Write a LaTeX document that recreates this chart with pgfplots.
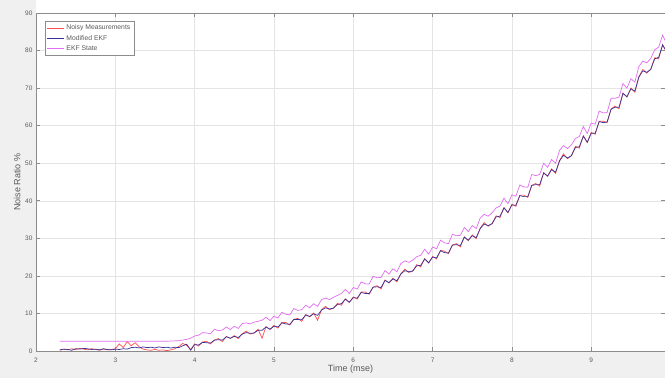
\documentclass[border=0pt]{standalone}
\usepackage{fontspec}
\setmainfont{Liberation Sans}
\usepackage{pgfplots}
\usepackage{pgfplotstable}
\pgfplotsset{compat=1.18}
\definecolor{figgray}{RGB}{240,240,240}
\definecolor{noisy}{RGB}{255,80,80}
\definecolor{modekf}{RGB}{55,50,150}
\definecolor{ekfst}{RGB}{225,110,240}
\definecolor{gridc}{RGB}{228,228,228}
\definecolor{axc}{RGB}{140,140,140}
\definecolor{tickc}{RGB}{90,90,90}

\pgfplotstableread{
t n m e
2.30 0.2 0.3 2.6
2.35 0.5 0.5 2.6
2.40 0.3 0.4 2.6
2.45 0.6 0.2 2.6
2.50 0.4 0.6 2.6
2.55 0.7 0.5 2.6
2.60 0.5 0.7 2.6
2.65 0.3 0.6 2.6
2.70 0.6 0.4 2.6
2.75 0.4 0.5 2.6
2.80 0.2 0.3 2.6
2.85 0.5 0.6 2.6
2.90 0.3 0.4 2.6
2.95 0.4 0.3 2.6
3.00 0.6 0.5 2.6
3.05 1.9 0.4 2.6
3.10 0.9 0.6 2.6
3.15 2.5 0.5 2.6
3.20 1.4 0.9 2.6
3.25 2.2 1.0 2.6
3.30 1.1 0.8 2.6
3.35 0.5 1.1 2.6
3.40 0.3 0.9 2.6
3.45 0.2 1.0 2.6
3.50 0.4 0.8 2.6
3.55 0.2 1.1 2.6
3.60 0.3 0.9 2.6
3.65 0.1 1.0 2.6
3.70 0.3 0.8 2.65
3.75 0.6 1.0 2.7
3.80 1.2 0.9 2.75
3.85 2.0 1.4 2.9
3.90 1.5 1.8 3.1
3.95 0.4 0.2 3.4
4.00 1.9 1.7 4.0
4.05 1.3 1.6 4.2
4.10 2.4 2.3 4.9
4.15 2.6 2.2 4.8
4.20 1.9 2.1 4.6
4.25 2.9 2.9 5.8
4.30 3.3 3.0 5.4
4.35 2.5 2.9 5.6
4.40 3.9 3.8 6.4
4.45 3.3 3.4 5.7
4.50 4.1 3.9 6.6
4.55 3.3 3.6 6.0
4.60 4.6 4.5 7.3
4.65 5.3 4.9 7.5
4.70 4.5 4.7 7.2
4.75 4.8 4.8 7.7
4.80 5.8 5.5 7.9
4.85 3.4 5.5 8.2
4.90 6.5 6.4 9.0
4.95 5.7 5.8 8.1
5.00 6.8 6.6 9.3
5.05 6.1 6.4 8.8
5.10 7.6 7.5 10.3
5.15 7.6 7.2 9.8
5.20 6.9 7.1 9.6
5.25 8.4 8.4 11.3
5.30 8.7 8.4 10.8
5.35 7.9 8.3 11.0
5.40 9.7 9.6 12.2
5.45 9.1 9.2 11.5
5.50 10.1 9.9 12.6
5.55 8.2 9.5 11.9
5.60 11.0 10.9 13.7
5.65 11.9 11.5 14.1
5.70 11.0 11.2 13.7
5.75 11.4 11.4 14.3
5.80 12.7 12.4 14.8
5.85 12.2 12.6 15.3
5.90 13.9 13.8 16.4
5.95 12.9 13.0 15.3
6.00 14.4 14.2 16.9
6.05 13.8 14.1 16.5
6.10 15.7 15.6 18.4
6.15 15.7 15.3 17.9
6.20 15.1 15.3 17.8
6.25 17.0 17.0 19.9
6.30 17.4 17.1 19.5
6.35 16.5 16.9 19.6
6.40 18.9 18.8 21.4
6.45 18.1 18.2 20.5
6.50 19.4 19.2 21.9
6.55 18.4 18.7 21.1
6.60 20.6 20.5 23.3
6.65 21.8 21.4 24.0
6.70 20.9 21.1 23.6
6.75 21.3 21.3 24.2
6.80 23.0 22.7 25.1
6.85 22.4 22.8 25.5
6.90 24.6 24.5 27.1
6.95 23.4 23.5 25.8
7.00 25.2 25.0 27.7
7.05 24.5 24.8 27.2
7.10 26.8 26.7 29.5
7.15 26.6 26.2 28.8
7.20 25.9 26.1 28.6
7.25 28.2 28.2 31.1
7.30 28.6 28.3 30.7
7.35 27.7 28.1 30.8
7.40 30.4 30.3 32.9
7.45 29.4 29.5 31.8
7.50 30.9 30.7 33.4
7.55 29.9 30.2 32.6
7.60 32.7 32.6 35.4
7.65 34.2 33.8 36.4
7.70 33.2 33.4 35.9
7.75 33.9 33.9 36.8
7.80 36.0 35.7 38.1
7.85 35.5 35.9 38.6
7.90 38.2 38.1 40.7
7.95 36.8 36.9 39.2
8.00 39.1 38.9 41.6
8.05 38.5 38.8 41.2
8.10 41.5 41.4 44.2
8.15 41.5 41.1 43.7
8.20 40.9 41.1 43.6
8.25 44.1 44.1 47.0
8.30 44.6 44.3 46.7
8.35 43.9 44.3 47.0
8.40 47.5 47.4 50.0
8.45 46.5 46.6 48.9
8.50 48.5 48.3 51.0
8.55 47.3 47.6 50.0
8.60 50.7 50.6 53.4
8.65 52.5 52.1 54.7
8.70 51.2 51.4 53.9
8.75 52.0 52.0 54.9
8.80 54.5 54.2 56.6
8.85 54.0 54.4 57.1
8.90 57.3 57.2 59.8
8.95 55.5 55.6 57.9
9.00 58.2 58.0 60.7
9.05 57.7 58.0 60.4
9.10 61.2 61.1 63.9
9.15 61.2 60.8 63.4
9.20 60.8 61.0 63.5
9.25 64.4 64.4 67.3
9.30 65.2 64.9 67.3
9.35 64.5 64.9 67.6
9.40 68.7 68.6 71.2
9.45 67.6 67.7 70.0
9.50 70.0 69.8 72.5
9.55 68.9 69.2 71.6
9.60 73.0 72.9 75.7
9.65 75.0 74.6 77.2
9.70 74.0 74.2 76.7
9.75 75.0 75.0 77.9
9.80 78.1 77.8 80.2
9.85 77.8 78.2 80.9
9.90 81.6 81.5 84.1
9.93 80.3 80.4 82.7
}\datatable

\begin{document}
\begin{tikzpicture}[x=1pt,y=1pt]
\fill[figgray] (0,0) rectangle (665,378);
\fill[white] (36,365) rectangle (665,378);
\path[use as bounding box] (0,0) rectangle (665,378);
\begin{axis}[
  at={(36pt,27pt)}, anchor=south west,
  scale only axis, width=629pt, height=338pt,
  xmin=2, xmax=9.93, ymin=0, ymax=90,
  xtick={2,3,...,9}, ytick={0,10,...,90},
  grid=major, major grid style={gridc, line width=0.5pt},
  axis line style={axc, line width=0.8pt},
  tick style={axc, line width=0.6pt}, tick align=inside, major tick length=4pt,
  ticklabel style={font=\fontsize{6.5}{7.5}\selectfont, text=tickc},
  xticklabel style={yshift=-3pt},
  /pgf/number format/assume math mode=true,
  xlabel={Time (mse)}, ylabel={Noise Ratio \%},
  label style={font=\fontsize{9}{10}\selectfont, text=tickc},
  xlabel style={yshift=4pt},
  ylabel style={yshift=-2pt},
  axis background/.style={fill=white},
  legend style={at={(0.0143,0.976)}, anchor=north west, draw=axc, fill=white,
    font=\fontsize{6.8}{8}\selectfont, text=tickc, inner sep=1.5pt, row sep=0pt},
  legend cell align=left,
]
\addplot[draw=noisy, line width=0.7pt] table[x=t,y=n] {\datatable};
\addlegendentry{Noisy Measurements}
\addplot[draw=modekf, line width=0.7pt] table[x=t,y=m] {\datatable};
\addlegendentry{Modified EKF}
\addplot[draw=ekfst, line width=0.7pt] table[x=t,y=e] {\datatable};
\addlegendentry{EKF State}
\end{axis}
\end{tikzpicture}
\end{document}
